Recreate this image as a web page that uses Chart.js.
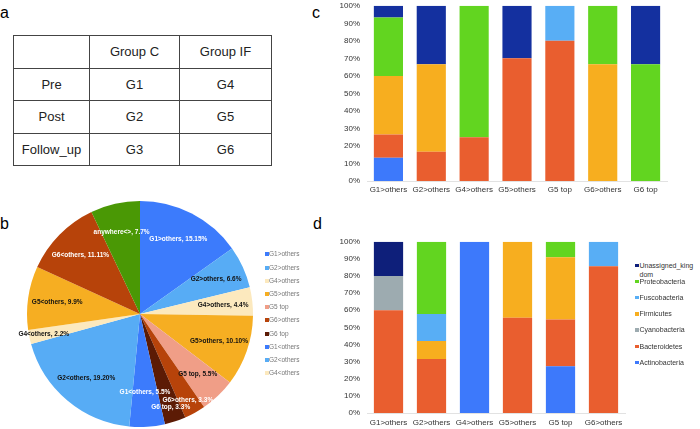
<!DOCTYPE html>
<html>
<head>
<meta charset="utf-8">
<script src="https://cdn.jsdelivr.net/npm/chart.js@4.4.0/dist/chart.umd.min.js"></script>
<style>
  body { margin: 0; width: 700px; height: 429px; background: #fff; position: relative; overflow: hidden;
         font-family: "Liberation Sans", Arial, sans-serif; }
  .panel { position: absolute; font-size: 16px; line-height: 16px; color: #000; }
  .box { position: absolute; }
  table.grp { position: absolute; left: 13px; top: 35px; border-collapse: collapse; font-size: 13px; color: #222; }
  table.grp td { border: 1px solid #444; text-align: center; padding: 0; height: 31.5px; }
  .legend { position: absolute; }
  .item { position: absolute; left: 0; }
  .sw { position: absolute; left: 0; }
</style>
</head>
<body>
<div class="panel" style="left:0;top:5px">a</div>
<div class="panel" style="left:0;top:216px">b</div>
<div class="panel" style="left:312px;top:5px">c</div>
<div class="panel" style="left:313px;top:216px">d</div>

<table class="grp" id="grpTable"></table>

<div class="box" style="left:12px;top:186px;width:256px;height:256px"><canvas id="pieChart"></canvas></div>
<div class="legend" id="pieLegend" style="left:265px;top:0"></div>

<div class="box" style="left:330px;top:-6px;width:340px;height:206px"><canvas id="chartC"></canvas></div>
<div class="box" style="left:330px;top:230px;width:300px;height:199px"><canvas id="chartD"></canvas></div>
<div class="legend" id="legendD" style="left:635px;top:0"></div>

<script>
// panel a: study groups
const tableCols = ['', 'Group C', 'Group IF'];
const tableRows = ['Pre', 'Post', 'Follow_up'];
const groupC = ['G1', 'G2', 'G3'];
const groupIF = ['G4', 'G5', 'G6'];

// panel b: pie
const pieNames = ['G1>others', 'G2>others', 'G4>others', 'G5>others', 'G5 top', 'G6>others', 'G6 top',
                  'G1<others', 'G2<others', 'G4<others', 'G5<others', 'G6<others', 'anywhere<>'];
const pieShown = ['15.15%', '6.6%', '4.4%', '10.10%', '5.5%', '3.3%', '3.3%',
                  '5.5%', '19.20%', '2.2%', '9.9%', '11.11%', '7.7%'];
const pieValues = [15.15, 6.06, 4.04, 10.10, 5.05, 3.03, 3.03, 5.05, 19.19, 2.02, 9.09, 11.11, 7.07];
const pieColors = ['#3c7bfc', '#57acf5', '#fce9be', '#f6ae22', '#f09e87', '#b7430a', '#5c1b05',
                   '#3c7bfc', '#57acf5', '#fce9be', '#f6ae22', '#b7430a', '#4a9805'];
const pieLegendCount = 10;

// panel c
const catsC = ['G1>others', 'G2>others', 'G4>others', 'G5>others', 'G5 top', 'G6>others', 'G6 top'];
const actinoC = [13.3, 0, 0, 0, 0, 0, 0];
const bacteroC = [13.3, 16.7, 25, 70, 80, 0, 0];
const firmiC = [33.4, 50, 0, 0, 0, 66.7, 0];
const fusoC = [0, 0, 0, 0, 20, 0, 0];
const proteoC = [33.3, 0, 75, 0, 0, 33.3, 66.7];
const unassignedC = [6.7, 33.3, 0, 30, 0, 0, 33.3];

// panel d
const catsD = ['G1>others', 'G2>others', 'G4>others', 'G5>others', 'G5 top', 'G6>others'];
const actinoD = [0, 0, 100, 0, 27.3, 0];
const bacteroD = [60, 31.6, 0, 55.6, 27.3, 85.7];
const cyanoD = [20, 0, 0, 0, 0, 0];
const firmiD = [0, 10.5, 0, 44.4, 36.4, 0];
const fusoD = [0, 15.8, 0, 0, 0, 14.3];
const proteoD = [0, 42.1, 0, 0, 9.0, 0];
const unassignedD = [20, 0, 0, 0, 0, 0];

const phyla = ['Actinobacteria', 'Bacteroidetes', 'Cyanobacteria', 'Firmicutes', 'Fuscobacteria', 'Proteobacteria', 'Unassigned_kingdom'];
const phylaColors = ['#3d79fb', '#e95e2f', '#9dabb0', '#f7ae1f', '#58aef5', '#62d520', '#0e1f7a'];
const navyC = '#14309f';

const FONT = '"Liberation Sans", Arial, sans-serif';
Chart.defaults.font.family = FONT;
Chart.defaults.animation = false;

const esc = s => s.replace(/&/g, '&amp;').replace(/</g, '&lt;').replace(/>/g, '&gt;');

// table
const tbl = document.getElementById('grpTable');
const widths = [75, 89, 91];
let html = '<tr>' + tableCols.map((c, i) => `<td style="width:${widths[i]}px">${c}</td>`).join('') + '</tr>';
tableRows.forEach((r, i) => {
  html += `<tr><td>${r}</td><td>${groupC[i]}</td><td>${groupIF[i]}</td></tr>`;
});
tbl.innerHTML = html;

function isDark(hex) {
  const n = parseInt(hex.slice(1), 16);
  const r = n >> 16, g = (n >> 8) & 255, b = n & 255;
  return 0.299 * r + 0.587 * g + 0.114 * b < 140;
}

// slice labels: small slices sit further out, bigger ones move inward if they collide
const pieLabels = {
  id: 'pieLabels',
  afterDatasetsDraw(chart) {
    const ctx = chart.ctx;
    const meta = chart.getDatasetMeta(0);
    ctx.save();
    ctx.font = 'bold 6.5px ' + FONT;
    ctx.textAlign = 'center';
    ctx.textBaseline = 'middle';
    const order = pieValues.map((v, i) => i).sort((a, b) => pieValues[a] - pieValues[b] || a - b);
    const placed = [];
    order.forEach(i => {
      const arc = meta.data[i];
      const p = arc.getProps(['x', 'y', 'startAngle', 'endAngle', 'outerRadius'], true);
      const mid = (p.startAngle + p.endAngle) / 2;
      const text = pieNames[i] + ', ' + pieShown[i];
      const w = ctx.measureText(text).width, h = 6.5;
      let r = p.outerRadius * (pieValues[i] < 3.5 ? 0.87 : 0.74);
      let bx, by;
      for (let k = 0; k < 40; k++) {
        bx = p.x + Math.cos(mid) * r;
        by = p.y + Math.sin(mid) * r;
        const hit = placed.some(q => Math.abs(q.x - bx) < (q.w + w) / 2 && Math.abs(q.y - by) < (q.h + h) / 2);
        if (!hit) break;
        r -= 1;
      }
      placed.push({ x: bx, y: by, w, h });
      ctx.fillStyle = isDark(pieColors[i]) ? '#fff' : '#111';
      ctx.fillText(text, bx, by);
    });
    ctx.restore();
  }
};

new Chart(document.getElementById('pieChart'), {
  type: 'pie',
  data: { labels: pieNames, datasets: [{ data: pieValues, backgroundColor: pieColors, borderWidth: 0 }] },
  options: {
    responsive: true, maintainAspectRatio: false,
    layout: { padding: 15 },
    plugins: { legend: { display: false }, tooltip: { enabled: false } }
  },
  plugins: [pieLabels]
});

// pie legend (first 10 entries only, like the original)
const pieLeg = document.getElementById('pieLegend');
pieNames.slice(0, pieLegendCount).forEach((n, i) => {
  const y = 254.3 + i * 13.2;
  pieLeg.innerHTML += `<div class="item" style="top:${y - 4}px;height:8px;line-height:8px;font-size:6.5px;color:#777;white-space:nowrap">
    <span class="sw" style="top:2px;width:4px;height:4px;background:${pieColors[i]}"></span>
    <span style="margin-left:4px">${esc(n)}</span></div>`;
});

function barOptions(padTop, padRight, axisH, xPad) {
  return {
    responsive: true, maintainAspectRatio: false,
    layout: { padding: { top: padTop, right: padRight, left: 0, bottom: 0 } },
    plugins: { legend: { display: false }, tooltip: { enabled: false } },
    scales: {
      x: {
        stacked: true,
        grid: { display: false, drawTicks: false },
        border: { display: true, color: '#e2e2e2' },
        ticks: { padding: xPad, color: '#333', font: { size: 8 }, maxRotation: 0, autoSkip: false },
        afterFit: s => { s.height = axisH; }
      },
      y: {
        stacked: true, min: 0, max: 100,
        grid: { display: false, drawTicks: false },
        border: { display: false },
        ticks: { stepSize: 10, padding: 7, color: '#333', font: { size: 8 }, callback: v => v + '%' },
        afterFit: s => { s.width = 37; }
      }
    }
  };
}

const seriesC = [actinoC, bacteroC, firmiC, fusoC, proteoC, unassignedC];
const colorsC = [phylaColors[0], phylaColors[1], phylaColors[3], phylaColors[4], phylaColors[5], navyC];
const namesC = [phyla[0], phyla[1], phyla[3], phyla[4], phyla[5], phyla[6]];
new Chart(document.getElementById('chartC'), {
  type: 'bar',
  data: {
    labels: catsC,
    datasets: seriesC.map((d, i) => ({ label: namesC[i], data: d, backgroundColor: colorsC[i],
      barPercentage: 0.68, categoryPercentage: 1 }))
  },
  options: barOptions(1, 3, 19, 4)
});

const seriesD = [actinoD, bacteroD, cyanoD, firmiD, fusoD, proteoD, unassignedD];
new Chart(document.getElementById('chartD'), {
  type: 'bar',
  data: {
    labels: catsD,
    datasets: seriesD.map((d, i) => ({ label: phyla[i], data: d, backgroundColor: phylaColors[i],
      barPercentage: 0.68, categoryPercentage: 1 }))
  },
  options: barOptions(2, 5, 16, 5)
});

// legend d, reversed order like the original
const legD = document.getElementById('legendD');
phyla.slice().reverse().forEach((n, i) => {
  const y = 265 + i * 16.2;
  const c = phylaColors[phyla.length - 1 - i];
  legD.innerHTML += `<div class="item" style="top:${y - 4.5}px;line-height:9px;font-size:7px;color:#333">
    <span class="sw" style="top:3px;width:3.5px;height:3.5px;background:${c}"></span>
    <div style="margin-left:4.5px;width:56px;word-break:break-all;white-space:normal">${esc(n)}</div></div>`;
});
</script>
</body>
</html>
